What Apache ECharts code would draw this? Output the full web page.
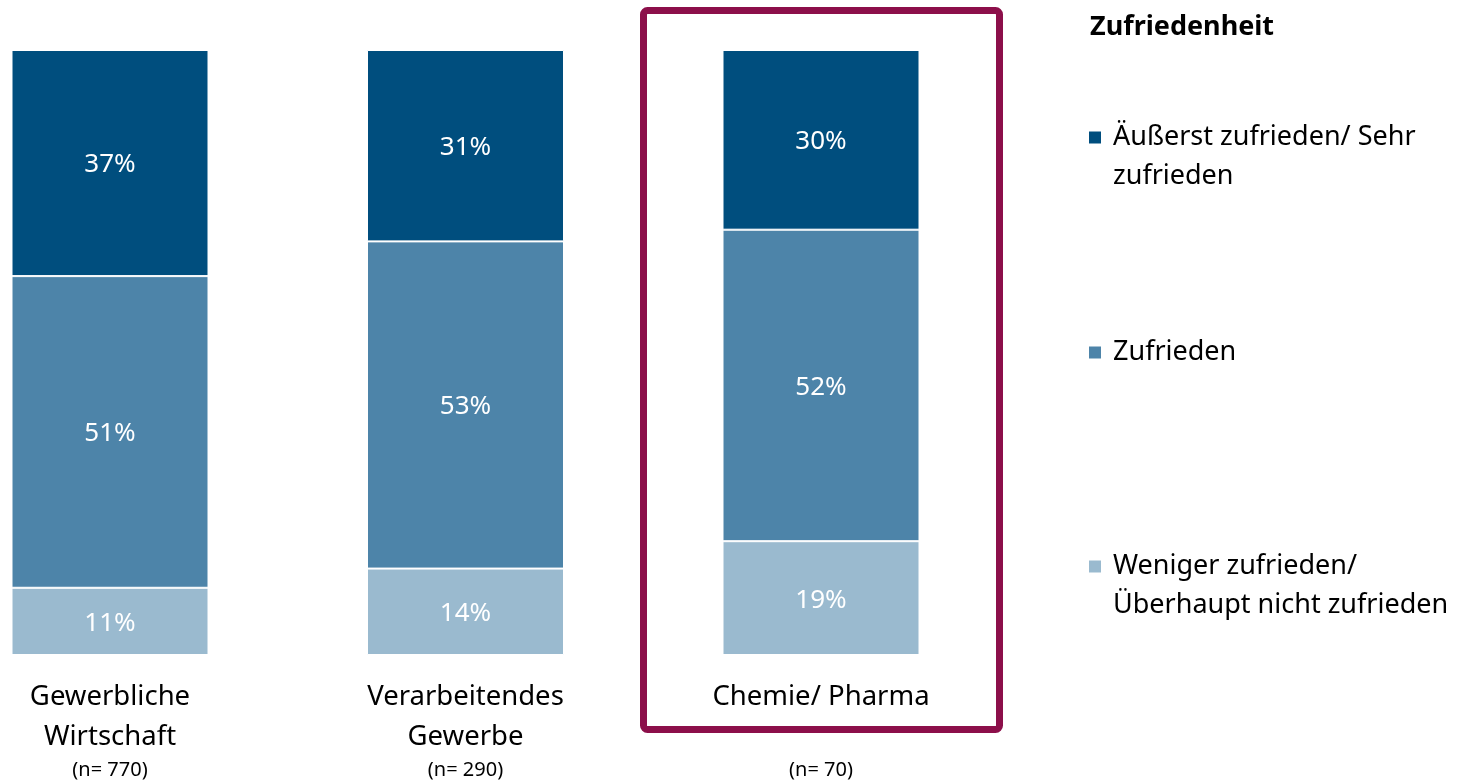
<!DOCTYPE html>
<html>
<head>
<meta charset="utf-8">
<script src="https://cdn.jsdelivr.net/npm/echarts@6/dist/echarts.min.js"></script>
<style>
  html, body { margin: 0; padding: 0; background: #fff; }
  #chart { width: 1460px; height: 781px; }
</style>
</head>
<body>
<div id="chart"></div>
<script>
const categories = ['Gewerbliche\nWirtschaft', 'Verarbeitendes\nGewerbe', 'Chemie/ Pharma']
const sampleSizes = ['(n= 770)', '(n= 290)', '(n= 70)']
const seriesNames = ['Äußerst zufrieden/ Sehr\nzufrieden', 'Zufrieden', 'Weniger zufrieden/\nÜberhaupt nicht zufrieden']
const sehrZufrieden = [37, 31, 30]
const zufrieden = [51, 53, 52]
const wenigerZufrieden = [11, 14, 19]
const colors = ['#004e7e', '#4d84a9', '#9abacf']

const font = '"Noto Sans", "Open Sans", sans-serif'
const values = [sehrZufrieden, zufrieden, wenigerZufrieden]
// jede Säule auf ihre Summe normiert (gerundete Werte ergeben nicht immer 100)
const totals = categories.map((c, i) => values.reduce((s, v) => s + v[i], 0))

const chart = echarts.init(document.getElementById('chart'))

// Reihenfolge im Stapel: unten -> oben
const order = [2, 1, 0]
const series = order.map(k => ({
  name: seriesNames[k],
  type: 'bar',
  stack: 'total',
  barWidth: 197,
  data: values[k].map((v, i) => ({ value: v / totals[i] * 100, raw: v })),
  itemStyle: { color: colors[k], borderColor: '#fff', borderWidth: 1 },
  label: {
    show: true,
    position: 'inside',
    offset: [0, 2],
    color: '#fff',
    fontSize: 26,
    fontFamily: font,
    formatter: p => p.data.raw + '%'
  }
}))

// Markierung auf Höhe der ersten Textzeile: leere Zeile oben gleicht die zweite aus
const legendTops = [80, 334, 509]
const legends = [0, 1, 2].map(k => {
  const lines = seriesNames[k].split('\n')
  return {
    orient: 'vertical',
    left: 1082,
    top: legendTops[k],
    itemWidth: 14,
    itemHeight: 14,
    icon: 'rect',
    selectedMode: false,
    data: [seriesNames[k]],
    formatter: () => lines.length > 1
      ? '{e| }\n' + lines.map(l => '{a|' + l + '}').join('\n')
      : '{a|' + lines[0] + '}',
    textStyle: {
      padding: [0, 0, 0, 6],
      rich: {
        e: { fontSize: 27, lineHeight: 39 },
        a: { color: '#000', fontSize: 27, lineHeight: 39, fontFamily: font }
      }
    }
  }
})

chart.setOption({
  animation: false,
  title: {
    text: 'Zufriedenheit',
    left: 1085,
    top: 9,
    textStyle: { color: '#000', fontSize: 27, fontWeight: 'bold', fontFamily: font }
  },
  legend: legends,
  grid: { left: 110, top: 50, width: 711, height: 605, outerBoundsMode: 'none' },
  xAxis: {
    type: 'category',
    boundaryGap: false,
    data: categories,
    axisLine: { show: false },
    axisTick: { show: false },
    axisLabel: {
      margin: 22,
      interval: 0,
      formatter: (v, i) => {
        const lines = v.split('\n')
        if (lines.length < 2) lines.push(' ')
        return lines.map(l => '{a|' + l + '}').join('\n') + '\n{n|' + sampleSizes[i] + '}'
      },
      rich: {
        a: { fontSize: 27.5, lineHeight: 40, color: '#000', fontFamily: font },
        n: { fontSize: 20, lineHeight: 26, color: '#000', fontFamily: font }
      }
    }
  },
  yAxis: {
    type: 'value',
    min: 0,
    max: 100,
    show: false
  },
  series,
  graphic: [{
    type: 'rect',
    shape: { x: 643.5, y: 10.5, width: 356, height: 719, r: 4 },
    style: { fill: 'none', stroke: '#8c0f4a', lineWidth: 7 }
  }]
})
</script>
</body>
</html>
